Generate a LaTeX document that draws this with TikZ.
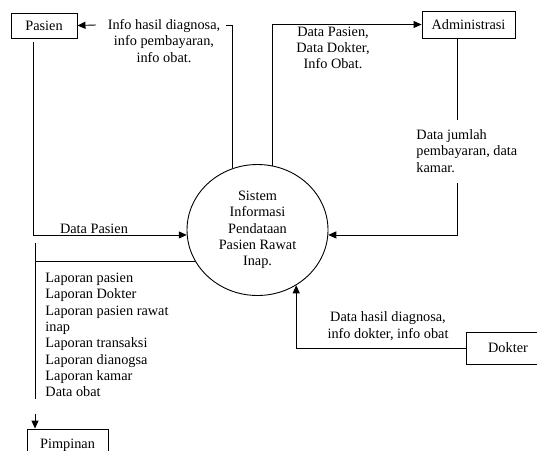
\documentclass[tikz,border=0pt]{standalone}
\usepackage{fontspec}
\setmainfont{Liberation Serif}
\usetikzlibrary{shapes.geometric,arrows.meta}
\tikzset{
	teks/.style={font=\fontsize{14.3}{16.3}\selectfont, inner sep=0pt},
	entitas/.style={teks, draw, minimum width=#1},
	alur/.style={-{Triangle[length=8pt,width=7pt]}},
}
\begin{document}
\begin{tikzpicture}[x=1pt,y=-1pt,line width=0.9pt]
		\clip (0,0) rectangle (537,450);
		\node[entitas=66, minimum height=25] (pas) at (44,25.5) {Pasien};
		\node[entitas=93, minimum height=27] (adm) at (468.5,24.5) {Administrasi};
		\node[entitas=84, minimum height=32] (dok) at (508,348) {Dokter};
		\node[entitas=81, minimum height=32] (pim) at (67.5,445) {Pimpinan};
		\node[teks, ellipse, draw, minimum width=141, minimum height=131, align=center] (sys) at (257.5,230) {Sistem\\Informasi\\Pendataan\\Pasien Rawat\\Inap.};
		\node[teks, align=center] (infopas) at (164,41) {Info hasil diagnosa,\\info pembayaran,\\info obat.};
		\node[teks, align=center] (dataadm) at (333,48) {Data Pasien,\\Data Dokter,\\Info Obat.};
		\node[teks, align=left, anchor=west] (bayar) at (416,151) {Data jumlah\\pembayaran, data\\kamar.};
		\node[teks] (datapas) at (94,229) {Data Pasien};
		\node[teks, align=left, anchor=west] (laporan) at (45,335) {Laporan pasien\\Laporan Dokter\\Laporan pasien rawat\\inap\\Laporan transaksi\\Laporan dianogsa\\Laporan kamar\\Data obat};
		\node[teks, align=center] (diagnosa) at (388,326) {Data hasil diagnosa,\\info dokter, info obat};
		\coordinate (infoujung) at (226,25);
		\coordinate (infopanah) at (96,25);
		\coordinate (pasturun) at (33,42);
		\coordinate (admturun) at (457,120);
		\coordinate (admnaik) at (457,183);
		\coordinate (lapatas) at (35,243);
		\coordinate (lapbawah) at (35,399);
		\coordinate (lappanah) at (35,414);
		% alur data
		\draw (sys.112.65) |- (infoujung);
		\draw[alur] (infopanah) -- (pas.east);
		\draw[alur] (sys.77.25) |- (adm.west);
		\draw (adm.south -| admturun) -- (admturun);
		\draw[alur] (admnaik) |- (sys.-4.9);
		\draw[alur] (pasturun) |- (sys.184.9);
		\draw (sys.207.5) -- (sys.207.5 -| lapatas);
		\draw (lapatas) -- (lapbawah);
		\draw[alur] (lappanah) -- (pim.north -| lappanah);
		\draw[alur] (dok.west) -| (sys.-55.96);
	\end{tikzpicture}
\end{document}
